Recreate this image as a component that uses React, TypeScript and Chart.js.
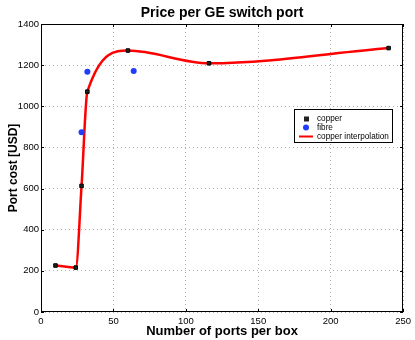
import React, { useEffect, useRef } from 'react';
import { Chart, registerables } from 'chart.js';

Chart.register(...registerables);

// ---- data ----
const copperPorts = [10, 24, 28, 32, 60, 116, 240];
const copperCost = [226, 216, 613, 1071, 1271, 1209, 1283];
const fibrePorts = [28, 32, 64];
const fibreCost = [874, 1168, 1172];
const legendLabels = ['copper', 'fibre', 'copper interpolation'];

const FONT = "'Liberation Sans', Arial, Helvetica, sans-serif";
const RED = '#ff0000';
const BLUE = '#1f3cff';

const framePlugin = {
  id: 'frameAndLegend',
  afterDraw(chart: any) {
    const { ctx, chartArea: a, scales } = chart;
    ctx.save();
    ctx.strokeStyle = '#000';
    ctx.lineWidth = 1;
    const tl = 3;
    ctx.beginPath();
    scales.x.ticks.forEach((t: any) => {
      const px = Math.round(scales.x.getPixelForValue(t.value)) + 0.5;
      ctx.moveTo(px, a.bottom);
      ctx.lineTo(px, a.bottom - tl);
      ctx.moveTo(px, a.top);
      ctx.lineTo(px, a.top + tl);
    });
    scales.y.ticks.forEach((t: any) => {
      const py = Math.round(scales.y.getPixelForValue(t.value)) + 0.5;
      ctx.moveTo(a.left, py);
      ctx.lineTo(a.left + tl, py);
      ctx.moveTo(a.right, py);
      ctx.lineTo(a.right - tl, py);
    });
    ctx.stroke();
    ctx.strokeRect(Math.round(a.left) + 0.5, Math.round(a.top) + 0.5, Math.round(a.right - a.left) - 1, Math.round(a.bottom - a.top) - 1);

    // legend box
    const bx = 294, by = 109, bw = 98, bh = 33;
    ctx.fillStyle = '#fff';
    ctx.fillRect(bx, by, bw, bh);
    ctx.strokeStyle = '#000';
    ctx.strokeRect(bx + 0.5, by + 0.5, bw, bh);
    const rows = [118.5, 127.5, 136.5];
    const mx = 306;
    ctx.fillStyle = '#222';
    ctx.fillRect(mx - 2, rows[0] - 2, 5, 5);
    ctx.fillStyle = BLUE;
    ctx.beginPath();
    ctx.arc(mx, rows[1], 3, 0, Math.PI * 2);
    ctx.fill();
    ctx.strokeStyle = RED;
    ctx.lineWidth = 2;
    ctx.beginPath();
    ctx.moveTo(299, rows[2]);
    ctx.lineTo(313, rows[2]);
    ctx.stroke();
    ctx.fillStyle = '#000';
    ctx.font = `8.2px ${FONT}`;
    ctx.textBaseline = 'middle';
    ctx.textAlign = 'left';
    legendLabels.forEach((l, i) => ctx.fillText(l, 317, rows[i]));
    ctx.restore();
  },
};

export default function App() {
  const ref = useRef<HTMLCanvasElement>(null);
  useEffect(() => {
    const canvas = ref.current!;
    const chart = new Chart(canvas, {
      type: 'scatter',
      data: {
        datasets: [
          {
            label: legendLabels[0],
            data: copperPorts.map((x, i) => ({ x, y: copperCost[i] })),
            pointStyle: 'rect',
            pointRadius: 2.5,
            backgroundColor: '#222',
            borderColor: '#000',
            borderWidth: 1,
            order: 0,
          },
          {
            label: legendLabels[1],
            data: fibrePorts.map((x, i) => ({ x, y: fibreCost[i] })),
            pointStyle: 'circle',
            pointRadius: 3,
            backgroundColor: BLUE,
            borderColor: BLUE,
            borderWidth: 0,
            order: 1,
          },
          {
            label: legendLabels[2],
            data: copperPorts.map((x, i) => ({ x, y: copperCost[i] })),
            showLine: true,
            cubicInterpolationMode: 'monotone',
            pointRadius: 0,
            borderColor: RED,
            borderWidth: 2.5,
            backgroundColor: RED,
            order: 2,
          },
        ],
      },
      options: {
        responsive: false,
        animation: false,
        layout: { padding: { left: 1, right: 11, top: 0, bottom: 0 } },
        plugins: {
          legend: { display: false },
          tooltip: { enabled: false },
          title: {
            display: true,
            fullSize: false,
            text: 'Price per GE switch port',
            color: '#000',
            font: { family: FONT, size: 14, weight: 'bold' },
            padding: { top: 4.5, bottom: 2.7 },
          },
        },
        scales: {
          x: {
            type: 'linear',
            min: 0,
            max: 250,
            ticks: { stepSize: 50, color: '#000', font: { family: FONT, size: 9.5 }, padding: 4, maxRotation: 0, callback: (v: any) => String(v) },
            grid: { color: '#b0b0b0', drawTicks: false },
            border: { display: false, dash: [1, 3] },
            title: {
              display: true,
              text: 'Number of ports per box',
              color: '#000',
              font: { family: FONT, size: 13, weight: 'bold' },
              padding: { top: 0, bottom: 1 },
            },
            afterFit: (s: any) => { s.height = 28; },
          },
          y: {
            type: 'linear',
            min: 0,
            max: 1400,
            ticks: { stepSize: 200, color: '#000', font: { family: FONT, size: 9.5 }, padding: 2, callback: (v: any) => String(v) },
            grid: { color: '#b0b0b0', drawTicks: false },
            border: { display: false, dash: [1, 3] },
            title: {
              display: true,
              text: 'Port cost [USD]',
              color: '#000',
              font: { family: FONT, size: 12, weight: 'bold' },
              padding: { top: 5, bottom: 0 },
            },
            afterFit: (s: any) => { s.width = 40; },
          },
        },
      } as any,
      plugins: [
        {
          id: 'bg',
          beforeDraw(c: any) {
            const { ctx } = c;
            ctx.save();
            ctx.fillStyle = '#fff';
            ctx.fillRect(0, 0, c.width, c.height);
            ctx.restore();
          },
        },
        framePlugin,
      ],
    });
    return () => chart.destroy();
  }, []);
  return (
    <div style={{ position: 'fixed', left: 0, top: 0, width: 415, height: 340, background: '#fff' }}>
      <canvas ref={ref} width={415} height={340} />
    </div>
  );
}
